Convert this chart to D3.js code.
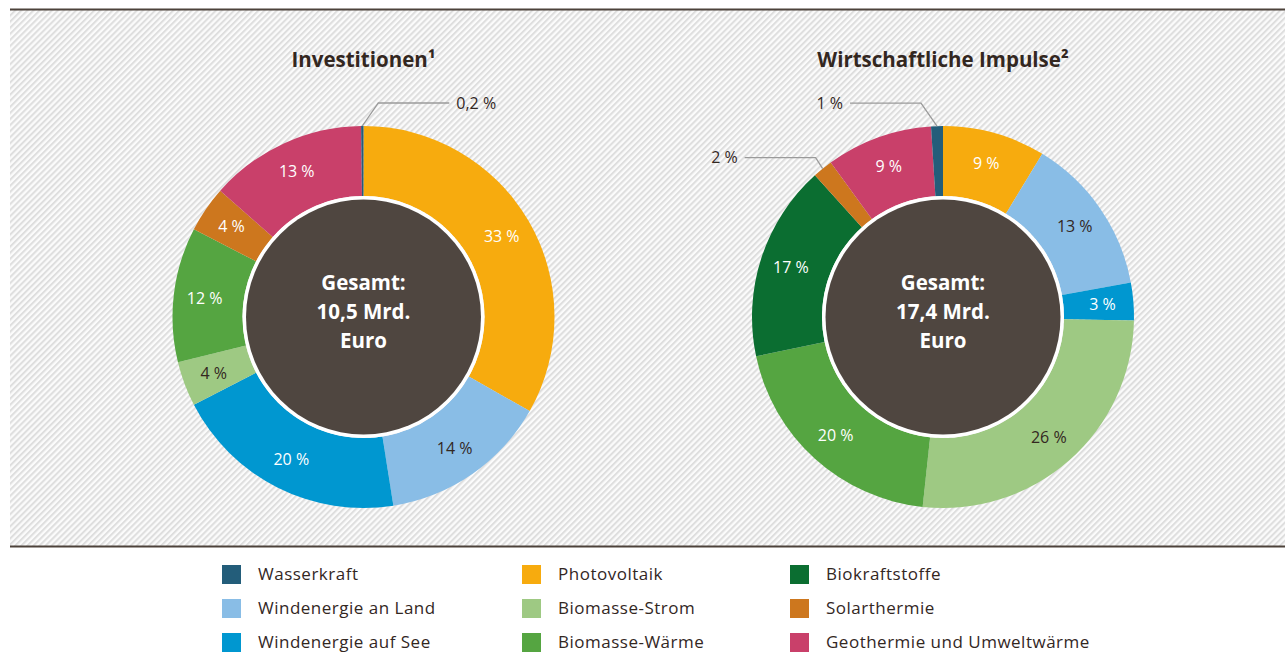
<!DOCTYPE html>
<html>
<head>
<meta charset="utf-8">
<script src="https://cdn.jsdelivr.net/npm/d3@7"></script>
<style>
  html, body { margin: 0; padding: 0; background: #fff; }
  svg { display: block; font-family: "Open Sans", "Noto Sans", sans-serif; }
</style>
</head>
<body>
<svg class="svg" width="1285" height="653"></svg>
<script>
// Kategorien (Reihenfolge im Ring, im Uhrzeigersinn ab 12 Uhr)
const categories = [
    "Photovoltaik", "Windenergie an Land", "Windenergie auf See",
    "Biomasse-Strom", "Biomasse-Wärme", "Biokraftstoffe",
    "Solarthermie", "Geothermie und Umweltwärme", "Wasserkraft"
];
const colors = [
    "#f7ab0e", "#89bde6", "#0097d0",
    "#9ec983", "#55a541", "#0b6e31",
    "#cd771e", "#c9406a", "#235d7a"
];
// dunkle Schrift auf hellen Segmenten
const darkText = ["Windenergie an Land", "Biomasse-Strom"];

// Anteile in % (aus dem Bild geschätzt, Beschriftung gerundet)
const investValues = [33.2, 14.3, 19.9, 3.8, 11.4, 0, 3.9, 13.3, 0.2];
const impulseValues = [8.7, 13.4, 3.2, 26.4, 20, 16.6, 1.7, 9, 1];

const investLabels = ["33 %", "14 %", "20 %", "4 %", "12 %", "", "4 %", "13 %", "0,2 %"];
const impulseLabels = ["9 %", "13 %", "3 %", "26 %", "20 %", "17 %", "2 %", "9 %", "1 %"];
// Segmente mit Beschriftung außen (Index)
const investOutside = [8];
const impulseOutside = [6, 8];

const titles = ["Investitionen\u00b9", "Wirtschaftliche Impulse\u00b2"];
const totals = [["Gesamt:", "10,5 Mrd.", "Euro"], ["Gesamt:", "17,4 Mrd.", "Euro"]];

// Legende in drei Spalten
const legendOrder = [
    ["Wasserkraft", "Windenergie an Land", "Windenergie auf See"],
    ["Photovoltaik", "Biomasse-Strom", "Biomasse-Wärme"],
    ["Biokraftstoffe", "Solarthermie", "Geothermie und Umweltwärme"]
];

const width = 1285, height = 653;
const textColor = "#33271f";
const svg = d3.select(".svg");

// Schraffur-Hintergrund
const defs = svg.append("defs");
const pat = defs.append("pattern")
    .attr("id", "hatch")
    .attr("patternUnits", "userSpaceOnUse")
    .attr("width", 4.3)
    .attr("height", 4.3)
    .attr("patternTransform", "rotate(45)");
pat.append("rect").attr("width", 4.3).attr("height", 4.3).attr("fill", "#fbfbfb");
pat.append("line")
    .attr("x1", 1).attr("y1", 0).attr("x2", 1).attr("y2", 4.3)
    .attr("stroke", "#dedede").attr("stroke-width", 2.1);

svg.append("rect")
    .attr("x", 10).attr("y", 10)
    .attr("width", width - 10).attr("height", 536)
    .attr("fill", "url(#hatch)");

svg.append("line")
    .attr("x1", 10).attr("x2", width).attr("y1", 9.5).attr("y2", 9.5)
    .attr("stroke", "#4d423b").attr("stroke-width", 2);
svg.append("line")
    .attr("x1", 10).attr("x2", width).attr("y1", 546.5).attr("y2", 546.5)
    .attr("stroke", "#4d423b").attr("stroke-width", 2);

const outerR = 191, innerR = 121, labelR = 160;

const pie = d3.pie().sort(null).value(d => d.value);
const arcGen = d3.arc().innerRadius(innerR).outerRadius(outerR);
const labelArc = d3.arc().innerRadius(labelR).outerRadius(labelR);

function drawDonut(cx, cy, values, labels, outside, title, total) {
    const data = categories.map((c, i) => ({
        name: c, value: values[i], color: colors[i], label: labels[i], outside: outside.includes(i)
    }));
    const g = svg.append("g").attr("transform", `translate(${cx},${cy})`);

    g.selectAll(".seg")
        .data(pie(data))
        .enter()
        .append("path")
        .attr("class", "seg")
        .attr("d", arcGen)
        .attr("fill", d => d.data.color);

    // Mitte
    g.append("circle").attr("r", innerR).attr("fill", "#fff");
    g.append("circle").attr("r", 117.5).attr("fill", "#4f4640");

    g.selectAll(".lbl")
        .data(pie(data).filter(d => !d.data.outside && d.data.value > 0))
        .enter()
        .append("text")
        .attr("class", "lbl")
        .attr("transform", d => `translate(${labelArc.centroid(d)})`)
        .attr("text-anchor", "middle")
        .attr("dy", "0.35em")
        .attr("font-size", 16)
        .attr("fill", d => darkText.includes(d.data.name) ? textColor : "#fff")
        .text(d => d.data.label);

    // Außenbeschriftungen mit Führungslinie
    const outs = pie(data).filter(d => d.data.outside);
    outs.forEach(d => {
        const mid = (d.startAngle + d.endAngle) / 2;
        const p0 = [Math.sin(mid) * outerR, -Math.cos(mid) * outerR];
        const side = Math.sin(mid) >= 0 || d.data.name === "Wasserkraft" && cx < 600 ? 1 : -1;
        const elbowY = p0[1] - (d.data.name === "Solarthermie" ? 11 : 23);
        const elbowX = p0[0] + side * (d.data.name === "Solarthermie" ? 7 : 16);
        const endX = elbowX + side * 71;
        g.append("polyline")
            .attr("points", [p0, [elbowX, elbowY], [endX, elbowY]].map(p => p.join(",")).join(" "))
            .attr("fill", "none")
            .attr("stroke", "#9a9a9a")
            .attr("stroke-width", 1.3);
        g.append("text")
            .attr("x", endX + side * 7)
            .attr("y", elbowY)
            .attr("dy", "0.35em")
            .attr("text-anchor", side > 0 ? "start" : "end")
            .attr("font-size", 16)
            .attr("fill", textColor)
            .text(d.data.label);
    });

    g.append("text")
        .attr("y", -257)
        .attr("dy", "0.35em")
        .attr("text-anchor", "middle")
        .attr("font-size", 20.5)
        .attr("font-weight", "bold")
        .attr("fill", textColor)
        .text(title);

    g.selectAll(".tot")
        .data(total)
        .enter()
        .append("text")
        .attr("class", "tot")
        .attr("y", (d, i) => -34 + i * 29)
        .attr("dy", "0.35em")
        .attr("text-anchor", "middle")
        .attr("font-size", 20.5)
        .attr("font-weight", "bold")
        .attr("fill", "#fff")
        .text(d => d);
}

drawDonut(363.5, 317, investValues, investLabels, investOutside, titles[0], totals[0]);
drawDonut(943, 317, impulseValues, impulseLabels, impulseOutside, titles[1], totals[1]);

// Legende
const colX = [222, 522, 790];
const rowY = [565, 599, 633];
legendOrder.forEach((col, ci) => {
    col.forEach((name, ri) => {
        const lg = svg.append("g").attr("transform", `translate(${colX[ci]},${rowY[ri]})`);
        lg.append("rect")
            .attr("width", 19).attr("height", 19)
            .attr("fill", colors[categories.indexOf(name)]);
        lg.append("text")
            .attr("x", 36).attr("y", 9.5)
            .attr("dy", "0.35em")
            .attr("font-size", 17)
            .attr("letter-spacing", 0.5)
            .attr("fill", textColor)
            .text(name);
    });
});
</script>
</body>
</html>
